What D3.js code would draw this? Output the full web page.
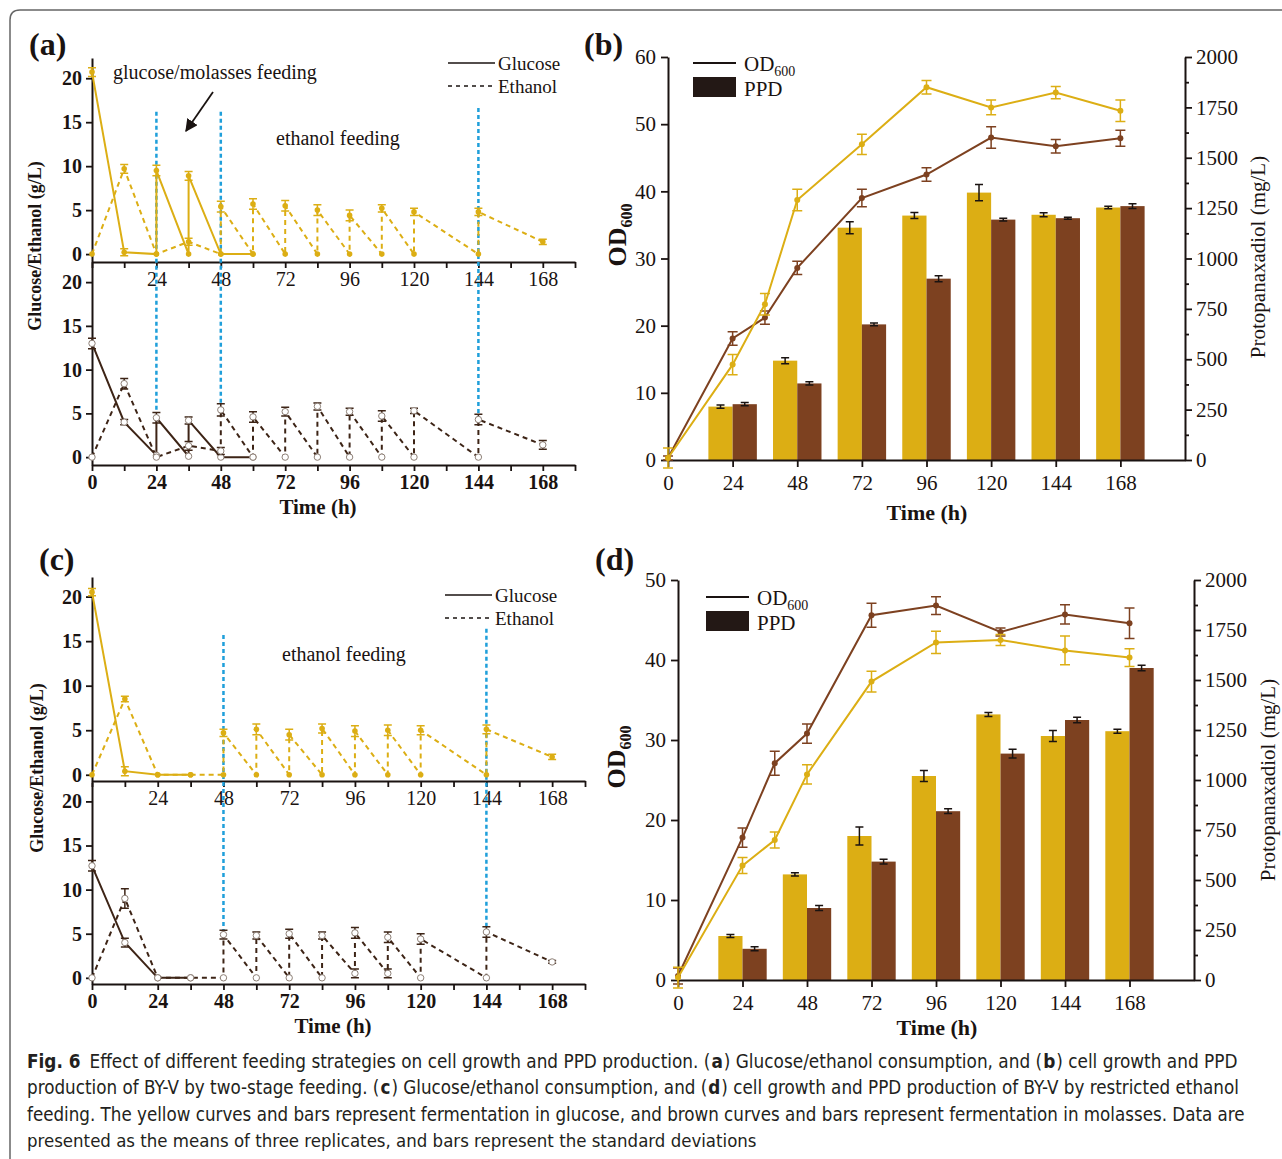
<!DOCTYPE html>
<html>
<head>
<meta charset="utf-8">
<script src="https://cdn.jsdelivr.net/npm/d3@7"></script>
<style>
body { margin: 0; background: #fff; }
</style>
</head>
<body>
<svg id="fig" width="1282" height="1159"></svg>
<script>
// ---- data, [time (h), value, sd] ----
// (a) two-stage feeding, glucose medium (top) and molasses (bottom)
var aGlcTop = [[0,20.7,0.5],[12,0.2,0.4],[24,0,0],[24,9.5,0.6],[36,0,0],[36,8.9,0.5],[48,0,0],[60,0,0]];
var aEthTop = [[0,0,0],[12,9.7,0.5],[24,0,0],[36,1.4,0.4],[48,0,0],[48,5.4,0.6],[60,0,0],[60,5.7,0.6],[72,0,0],[72,5.5,0.6],
  [84,0,0],[84,5.0,0.6],[96,0,0],[96,4.4,0.6],[108,0,0],[108,5.2,0.4],[120,0,0],[120,4.8,0.4],[144,0,0],[144,4.8,0.4],[168,1.4,0.3]];
var aGlcBot = [[0,13.0,0.6],[12,4.0,0.3],[24,0.2,0],[24,4.5,0.6],[36,0.1,0],[36,4.2,0.4],[48,0,0],[60,0,0]];
var aEthBot = [[0,0,0],[12,8.4,0.6],[24,0,0],[36,1.3,0.5],[48,0.7,0.4],[48,5.4,0.7],[60,0,0],[60,4.6,0.6],[72,0,0],[72,5.2,0.5],
  [84,0,0],[84,5.8,0.4],[96,0,0],[96,5.2,0.4],[108,0,0],[108,4.7,0.6],[120,0,0],[120,5.3,0.3],[144,0,0],[144,4.3,0.6],[168,1.4,0.5]];
var aFeeds = [24, 48, 144];
var aFeedTop = [16.2, 16.2, 16.6];
var aFeedEnd = [5.1, 6.1, 4.9];

// (c) restricted ethanol feeding
var cGlcTop = [[0,20.5,0.4],[12,0.4,0.5],[24,0,0],[36,0,0]];
var cEthTop = [[0,0,0],[12,8.5,0.3],[24,0,0],[36,0,0],[48,0,0],[48,4.7,0.4],[60,0,0],[60,5.1,0.6],[72,0,0],[72,4.5,0.6],
  [84,0,0],[84,5.2,0.5],[96,0,0],[96,4.9,0.6],[108,0,0],[108,5.0,0.6],[120,0,0],[120,5.0,0.5],[144,0,0],[144,5.1,0.5],[168,2.0,0.3]];
var cGlcBot = [[0,12.7,0.6],[12,4.0,0.5],[24,0,0],[36,0,0]];
var cEthBot = [[0,0,0],[12,9.0,1.1],[24,0,0],[36,0,0],[48,0,0],[48,4.9,0.5],[60,0,0],[60,4.8,0.4],[72,0,0],[72,5.0,0.5],
  [84,0,0],[84,4.8,0.4],[96,0.5,0.5],[96,5.1,0.6],[108,0.5,0.5],[108,4.6,0.6],[120,0,0],[120,4.4,0.6],[144,0,0],[144,5.2,0.6],[168,1.8,0.15]];
var cFeeds = [48, 144];
var cFeedTop = [15.7, 16.4];
var cFeedEnd = [5.4, 5.8];

// (b) and (d) OD600 curves
var odTimes = [0, 24, 36, 48, 72, 96, 120, 144, 168];
var bOdGlc   = [0.3, 14.2, 23.2, 38.7, 47.0, 55.5, 52.5, 54.7, 52.0];
var bOdGlcSd = [1.5, 1.5, 1.6, 1.6, 1.5, 1.0, 1.1, 0.9, 1.6];
var bOdMol   = [0.3, 18.1, 21.2, 28.6, 39.0, 42.5, 48.0, 46.7, 47.9];
var bOdMolSd = [0.3, 1.0, 1.0, 1.0, 1.3, 1.0, 1.6, 1.0, 1.2];
var dOdGlc   = [0.3, 14.3, 17.5, 25.7, 37.3, 42.2, 42.5, 41.2, 40.3];
var dOdGlcSd = [1.3, 1.0, 1.0, 1.2, 1.3, 1.4, 0.7, 1.8, 1.1];
var dOdMol   = [0.5, 17.8, 27.1, 30.8, 45.6, 46.8, 43.5, 45.7, 44.6];
var dOdMolSd = [1.0, 1.2, 1.5, 1.2, 1.5, 1.1, 0.5, 1.2, 1.9];

// (b) and (d) PPD bars (mg/L)
var barTimes = [24, 48, 72, 96, 120, 144, 168];
var bPpdGlc   = [265, 493, 1153, 1213, 1327, 1217, 1253];
var bPpdGlcSd = [8, 15, 30, 15, 40, 10, 6];
var bPpdMol   = [277, 380, 673, 900, 1193, 1200, 1260];
var bPpdMolSd = [8, 8, 7, 15, 7, 5, 12];
var dPpdGlc   = [220, 528, 720, 1020, 1328, 1220, 1244];
var dPpdGlcSd = [8, 8, 45, 28, 10, 28, 10];
var dPpdMol   = [156, 360, 592, 844, 1132, 1300, 1560];
var dPpdMolSd = [10, 12, 12, 12, 22, 14, 14];

var captionLines = [
  [["Fig. 6", true], ["Effect of different feeding strategies on cell growth and PPD production. (", false], ["a", true],
   [") Glucose/ethanol consumption, and (", false], ["b", true], [") cell growth and PPD", false]],
  [["production of BY-V by two-stage feeding. (", false], ["c", true], [") Glucose/ethanol consumption, and (", false], ["d", true],
   [") cell growth and PPD production of BY-V by restricted ethanol", false]],
  [["feeding. The yellow curves and bars represent fermentation in glucose, and brown curves and bars represent fermentation in molasses. Data are", false]],
  [["presented as the means of three replicates, and bars represent the standard deviations", false]]
];
var captionEnds = [1238, 1240, 1245, 757];

// ---- drawing ----
var SERIF = "'Liberation Serif','Times New Roman',serif";
var YEL = "#dcae14", BRN = "#7d4120", DARK = "#3d2416", BLUE = "#1f9fda", INK = "#1a1311";

var svg = d3.select("#fig");

// frame round the figure
svg.append("path")
  .attr("d", "M10,1159 V20 Q10,10 20,10 H1282")
  .attr("fill", "none").attr("stroke", "#666").attr("stroke-width", 1.5);

svg.append("defs").append("marker")
  .attr("id", "arr").attr("viewBox", "0 0 10 10").attr("refX", 9).attr("refY", 5)
  .attr("markerWidth", 7).attr("markerHeight", 7).attr("orient", "auto")
  .append("path").attr("d", "M0,0 L10,5 L0,10 z").attr("fill", INK);

function errBars(g, data, x, y, color, cap) {
  g.selectAll(null).data(data.filter(function(d){ return d[2] > 0; })).join("path")
    .attr("d", function(d) {
      var cx = x(d[0]), y1 = y(d[1] + d[2]), y2 = y(d[1] - d[2]);
      return "M" + (cx - cap) + "," + y1 + "H" + (cx + cap) + "M" + cx + "," + y1 + "V" + y2 +
             "M" + (cx - cap) + "," + y2 + "H" + (cx + cap);
    })
    .attr("fill", "none").attr("stroke", color).attr("stroke-width", 1.5);
}

function styleAxis(ax, size, weight) {
  ax.attr("font-family", SERIF).attr("font-size", size).attr("font-weight", weight);
  ax.select(".domain").attr("stroke", INK).attr("stroke-width", 2);
  ax.selectAll(".tick line").attr("stroke", INK).attr("stroke-width", 1.8);
  ax.selectAll(".tick text").attr("fill", INK);
}

function addText(x, y, str, size, weight, anchor) {
  return svg.append("text").attr("x", x).attr("y", y).text(str)
    .attr("font-family", SERIF).attr("font-size", size).attr("font-weight", weight || "normal")
    .attr("text-anchor", anchor || "start").attr("fill", INK);
}

function drawFeedSeries(g, x, y, glc, eth, color, hollow) {
  var line = d3.line().x(function(d){ return x(d[0]); }).y(function(d){ return y(d[1]); });
  g.append("path").datum(eth).attr("d", line).attr("fill", "none")
    .attr("stroke", color).attr("stroke-width", 2).attr("stroke-dasharray", "5,4");
  g.append("path").datum(glc).attr("d", line).attr("fill", "none")
    .attr("stroke", color).attr("stroke-width", 2);
  [glc, eth].forEach(function(s) {
    errBars(g, s, x, y, color, 4);
    g.selectAll(null).data(s).join("circle")
      .attr("cx", function(d){ return x(d[0]); }).attr("cy", function(d){ return y(d[1]); })
      .attr("r", hollow ? 3.2 : 2.8)
      .attr("fill", hollow ? "#fff" : color)
      .attr("stroke", hollow ? "#8d7f76" : "none").attr("stroke-width", 1);
  });
}

function feedPanel(p) {
  var g = svg.append("g");
  var x = d3.scaleLinear().domain([0, 180]).range([p.xl, p.xr]);
  var yT = d3.scaleLinear().domain(p.yDom).range([p.topB, p.topT]);
  var yB = d3.scaleLinear().domain(p.yDom).range([p.botB, p.botT]);
  var xt = d3.range(0, 181, 12);

  var axT = g.append("g").attr("transform", "translate(0," + p.topB + ")")
    .call(d3.axisBottom(x).tickValues(xt).tickSize(6).tickPadding(4).tickSizeOuter(0)
      .tickFormat(function(d){ return d > 0 && d % 24 === 0 ? d : ""; }));
  styleAxis(axT, 20, "normal");
  var axB = g.append("g").attr("transform", "translate(0," + p.botB + ")")
    .call(d3.axisBottom(x).tickValues(xt).tickSize(6).tickPadding(4).tickSizeOuter(0)
      .tickFormat(function(d){ return d % 24 === 0 ? d : ""; }));
  styleAxis(axB, 20, "bold");
  [yT, yB].forEach(function(y) {
    var ay = g.append("g").attr("transform", "translate(" + p.xl + ",0)")
      .call(d3.axisLeft(y).tickValues([0, 5, 10, 15, 20]).tickSize(6).tickPadding(4).tickSizeOuter(0));
    styleAxis(ay, 20, "bold");
  });

  // feeding markers (blue dotted)
  p.feeds.forEach(function(t, i) {
    g.append("line").attr("x1", x(t)).attr("x2", x(t))
      .attr("y1", yT(p.feedTop[i])).attr("y2", yB(p.feedEnd[i]))
      .attr("stroke", BLUE).attr("stroke-width", 2.5).attr("stroke-dasharray", "4,3");
  });

  drawFeedSeries(g, x, yT, p.topGlc, p.topEth, YEL, false);
  drawFeedSeries(g, x, yB, p.botGlc, p.botEth, DARK, true);

  // legend
  g.append("line").attr("x1", p.legX).attr("x2", p.legX + 47).attr("y1", p.legY).attr("y2", p.legY)
    .attr("stroke", INK).attr("stroke-width", 1.6);
  g.append("line").attr("x1", p.legX).attr("x2", p.legX + 47).attr("y1", p.legY + 23).attr("y2", p.legY + 23)
    .attr("stroke", INK).attr("stroke-width", 1.6).attr("stroke-dasharray", "4,4");
  addText(p.legX + 50, p.legY + 7, "Glucose", 19);
  addText(p.legX + 50, p.legY + 30, "Ethanol", 19);

  addText(p.ylabX, p.ylabY, "Glucose/Ethanol (g/L)", 18, "bold", "middle")
    .attr("transform", "rotate(-90," + p.ylabX + "," + p.ylabY + ")");
  addText(p.timeX, p.botB + 49, "Time (h)", 21, "bold", "middle");
  addText(p.tagX, p.tagY, p.tag, 32, "bold");
  return x;
}

function growthPanel(p) {
  var g = svg.append("g");
  var x = d3.scaleLinear().domain([0, 192]).range([p.x0, p.x1]);
  var yL = d3.scaleLinear().domain([0, p.odMax]).range([p.yb, p.yt]);
  var yR = d3.scaleLinear().domain([0, 2000]).range([p.yb, p.yt]);
  var bw = 9;

  // PPD bars
  [[p.ppdGlc, p.ppdGlcSd, YEL, -bw], [p.ppdMol, p.ppdMolSd, BRN, 0]].forEach(function(s) {
    var rows = barTimes.map(function(t, i){ return [t, s[0][i], s[1][i]]; });
    g.selectAll(null).data(rows).join("rect")
      .attr("x", function(d){ return x(d[0] + s[3]); })
      .attr("width", x(bw) - x(0))
      .attr("y", function(d){ return yR(d[1]); })
      .attr("height", function(d){ return yR(0) - yR(d[1]); })
      .attr("fill", s[2]);
    errBars(g, rows.map(function(d){ return [d[0] + s[3] + bw / 2, d[1], d[2]]; }), x, yR, INK, 4);
  });

  // axes
  var ax = g.append("g").attr("transform", "translate(0," + p.yb + ")")
    .call(d3.axisBottom(x).tickValues(d3.range(0, 169, 24)).tickSize(7).tickPadding(8).tickSizeOuter(0));
  styleAxis(ax, 21, "normal");
  var al = g.append("g").attr("transform", "translate(" + p.x0 + ",0)")
    .call(d3.axisLeft(yL).tickValues(d3.range(0, p.odMax + 1, 10)).tickSize(7).tickPadding(5).tickSizeOuter(0));
  styleAxis(al, 21, "normal");
  var ar = g.append("g").attr("transform", "translate(" + p.x1 + ",0)")
    .call(d3.axisRight(yR).tickValues(d3.range(0, 2001, 125)).tickSize(7).tickPadding(4).tickSizeOuter(0)
      .tickFormat(function(d){ return d % 250 === 0 ? d : ""; }));
  styleAxis(ar, 21, "normal");
  ar.selectAll(".tick").filter(function(d){ return d % 250 !== 0; }).select("line").attr("x2", 4);

  // OD600 curves
  [[p.odMol, p.odMolSd, BRN], [p.odGlc, p.odGlcSd, YEL]].forEach(function(s) {
    var rows = odTimes.map(function(t, i){ return [t, s[0][i], s[1][i]]; });
    g.append("path").datum(rows)
      .attr("d", d3.line().x(function(d){ return x(d[0]); }).y(function(d){ return yL(d[1]); }))
      .attr("fill", "none").attr("stroke", s[2]).attr("stroke-width", 2);
    errBars(g, rows, x, yL, s[2], 5);
    g.selectAll(null).data(rows).join("circle")
      .attr("cx", function(d){ return x(d[0]); }).attr("cy", function(d){ return yL(d[1]); })
      .attr("r", 3).attr("fill", s[2]);
  });

  // legend
  g.append("line").attr("x1", p.legX).attr("x2", p.legX + 43).attr("y1", p.legY).attr("y2", p.legY)
    .attr("stroke", INK).attr("stroke-width", 2);
  var od = addText(p.legX + 51, p.legY + 8, "OD", 21);
  od.append("tspan").attr("font-size", 14).attr("dy", 5).text("600");
  g.append("rect").attr("x", p.legX).attr("y", p.legY + 14).attr("width", 43).attr("height", 20).attr("fill", "#231815");
  addText(p.legX + 51, p.legY + 33, "PPD", 21);

  // axis titles
  var yl = svg.append("text").attr("transform", "translate(" + p.odLabX + "," + p.odLabY + ") rotate(-90)")
    .attr("text-anchor", "middle").attr("font-family", SERIF).attr("font-weight", "bold")
    .attr("font-size", 26).attr("fill", INK);
  yl.append("tspan").text("OD");
  yl.append("tspan").attr("font-size", 16).attr("dy", 6).text("600");
  svg.append("text").attr("transform", "translate(" + p.ppdLabX + "," + p.ppdLabY + ") rotate(-90)")
    .attr("text-anchor", "middle").attr("font-family", SERIF).attr("font-size", 21).attr("fill", INK)
    .text("Protopanaxadiol (mg/L)");
  addText(p.timeX, p.timeY, "Time (h)", 22, "bold", "middle");
  addText(p.tagX, p.tagY, p.tag, 32, "bold");
}

// (a)
feedPanel({
  xl: 92, xr: 575, topB: 262, topT: 58, botB: 465, botT: 262, yDom: [-0.9, 22.3],
  topGlc: aGlcTop, topEth: aEthTop, botGlc: aGlcBot, botEth: aEthBot,
  feeds: aFeeds, feedTop: aFeedTop, feedEnd: aFeedEnd, timeX: 318,
  legX: 448, legY: 63, ylabX: 41, ylabY: 246, tag: "(a)", tagX: 29, tagY: 55
});
addText(113, 79, "glucose/molasses feeding", 20);
addText(276, 145, "ethanol feeding", 20);
svg.append("line").attr("x1", 213).attr("y1", 92).attr("x2", 186).attr("y2", 131)
  .attr("stroke", INK).attr("stroke-width", 1.8).attr("marker-end", "url(#arr)");

// (c)
feedPanel({
  xl: 92, xr: 585, topB: 781, topT: 577, botB: 984, botT: 782, yDom: [-0.7, 22.2],
  topGlc: cGlcTop, topEth: cEthTop, botGlc: cGlcBot, botEth: cEthBot,
  feeds: cFeeds, feedTop: cFeedTop, feedEnd: cFeedEnd, timeX: 333,
  legX: 445, legY: 595, ylabX: 43, ylabY: 768, tag: "(c)", tagX: 39, tagY: 570
});
addText(282, 661, "ethanol feeding", 20);

// (b)
growthPanel({
  x0: 668, x1: 1185, yb: 460, yt: 57, odMax: 60,
  odGlc: bOdGlc, odGlcSd: bOdGlcSd, odMol: bOdMol, odMolSd: bOdMolSd,
  ppdGlc: bPpdGlc, ppdGlcSd: bPpdGlcSd, ppdMol: bPpdMol, ppdMolSd: bPpdMolSd,
  legX: 693, legY: 63, odLabX: 626, odLabY: 235, ppdLabX: 1265, ppdLabY: 257,
  timeX: 927, timeY: 520, tag: "(b)", tagX: 584, tagY: 55
});

// (d)
growthPanel({
  x0: 678, x1: 1194, yb: 980, yt: 580, odMax: 50,
  odGlc: dOdGlc, odGlcSd: dOdGlcSd, odMol: dOdMol, odMolSd: dOdMolSd,
  ppdGlc: dPpdGlc, ppdGlcSd: dPpdGlcSd, ppdMol: dPpdMol, ppdMolSd: dPpdMolSd,
  legX: 706, legY: 597, odLabX: 625, odLabY: 757, ppdLabX: 1275, ppdLabY: 780,
  timeX: 937, timeY: 1035, tag: "(d)", tagX: 595, tagY: 570
});

// caption: pieces laid out side by side, font size chosen so each line fits its reference width
var CAP = "'Liberation Sans Narrow','DejaVu Sans Condensed','Roboto Condensed','Noto Sans',sans-serif";
captionLines.forEach(function(parts, i) {
  var y = 1068 + i * 26.4;
  var pieces = parts.map(function(pt, j) {
    var t = svg.append("text").attr("y", y)
      .attr("font-family", CAP).attr("font-size", 19).attr("fill", "#231f20")
      .attr("font-weight", pt[1] ? "bold" : "normal").text(pt[0]);
    return { node: t, gap: (i === 0 && j === 1) ? 9 : (j > 0 ? 1 : 0) };
  });
  var natural = d3.sum(pieces, function(p){ return p.node.node().getComputedTextLength() + p.gap; });
  var fs = Math.min(20, 19 * (captionEnds[i] - 27) / natural);
  var cx = 27;
  pieces.forEach(function(p) {
    p.node.attr("font-size", fs);
    cx += p.gap;
    p.node.attr("x", cx);
    cx += p.node.node().getComputedTextLength();
  });
});
</script>
</body>
</html>
